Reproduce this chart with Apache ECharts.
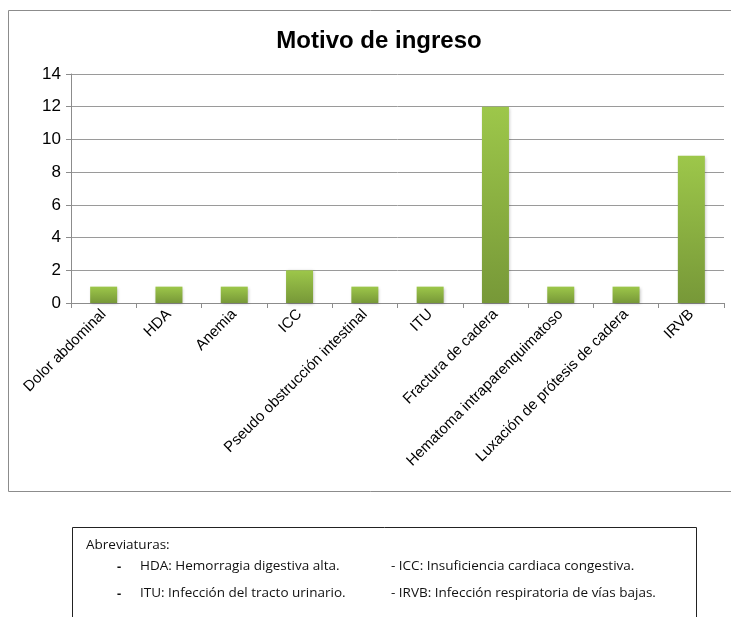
<!DOCTYPE html>
<html>
<head>
<meta charset="utf-8">
<script src="https://cdn.jsdelivr.net/npm/echarts@6/dist/echarts.min.js"></script>
<style>
  html, body { margin: 0; padding: 0; background: #fff; }
  #chart { width: 731px; height: 617px; }
</style>
</head>
<body>
<div id="chart"></div>
<script>
const categories = ['Dolor abdominal', 'HDA', 'Anemia', 'ICC', 'Pseudo obstrucción intestinal', 'ITU', 'Fractura de cadera', 'Hematoma intraparenquimatoso', 'Luxación de prótesis de cadera', 'IRVB'];
const values = [1, 1, 1, 2, 1, 1, 12, 1, 1, 9];
const abbrevLeft = ['HDA: Hemorragia digestiva alta.', 'ITU: Infección del tracto urinario.'];
const abbrevRight = ['- ICC: Insuficiencia cardiaca congestiva.', '- IRVB: Infección respiratoria de vías bajas.'];

const chart = echarts.init(document.getElementById('chart'), null, { renderer: 'canvas' });
const noteFont = '"Open Sans", "Noto Sans", sans-serif';
const arial = '"Liberation Sans", Arial, sans-serif';

const graphics = [
  { type: 'rect', shape: { x: 8.5, y: 10.5, width: 740, height: 481 }, style: { fill: 'none', stroke: '#8c8c8c', lineWidth: 1 }, z: -1 },
  { type: 'rect', shape: { x: 72.5, y: 527.5, width: 624, height: 110 }, style: { fill: '#fff', stroke: '#222', lineWidth: 1 } },
  { type: 'text', left: 86, top: 538, style: { text: 'Abreviaturas:', font: '13.5px ' + noteFont, fill: '#111' } }
];
abbrevLeft.forEach((t, i) => {
  graphics.push({ type: 'text', left: 117, top: 561 + i * 27, style: { text: '-', font: 'bold 13px ' + noteFont, fill: '#111' } });
  graphics.push({ type: 'text', left: 140, top: 559 + i * 27, style: { text: t, font: '13.5px ' + noteFont, fill: '#111' } });
});
abbrevRight.forEach((t, i) => {
  graphics.push({ type: 'text', left: 391, top: 559 + i * 27, style: { text: t, font: '13.5px ' + noteFont, fill: '#111' } });
});

chart.setOption({
  backgroundColor: '#fff',
  animation: false,
  title: {
    text: 'Motivo de ingreso', left: 374, top: 24, textAlign: 'center',
    textStyle: { fontFamily: arial, fontSize: 24, fontWeight: 'bold', color: '#000' }
  },
  grid: { left: 71, top: 74, right: 7, bottom: 314, containLabel: false },
  xAxis: {
    type: 'category', data: categories,
    axisLine: { lineStyle: { color: '#8c8c8c', width: 1 } },
    axisTick: { show: true, alignWithLabel: false, length: 5, lineStyle: { color: '#8c8c8c' } },
    axisLabel: { rotate: 45, interval: 0, margin: 9, color: '#000', fontSize: 15, fontFamily: arial }
  },
  yAxis: {
    type: 'value', min: 0, max: 14, interval: 2,
    axisLine: { show: true, lineStyle: { color: '#8c8c8c', width: 1 } },
    axisTick: { show: true, length: 5, lineStyle: { color: '#8c8c8c' } },
    axisLabel: { color: '#000', fontSize: 17, margin: 10, fontFamily: arial },
    splitLine: { lineStyle: { color: '#9a9a9a', width: 1 } }
  },
  series: [{
    type: 'bar', data: values, barWidth: 27,
    itemStyle: {
      color: new echarts.graphic.LinearGradient(0, 0, 0, 1, [{ offset: 0, color: '#9dc74a' }, { offset: 1, color: '#779838' }]),
      shadowColor: 'rgba(0,0,0,0.25)', shadowBlur: 3, shadowOffsetX: 1, shadowOffsetY: 1
    }
  }],
  graphic: graphics
});
</script>
</body>
</html>
